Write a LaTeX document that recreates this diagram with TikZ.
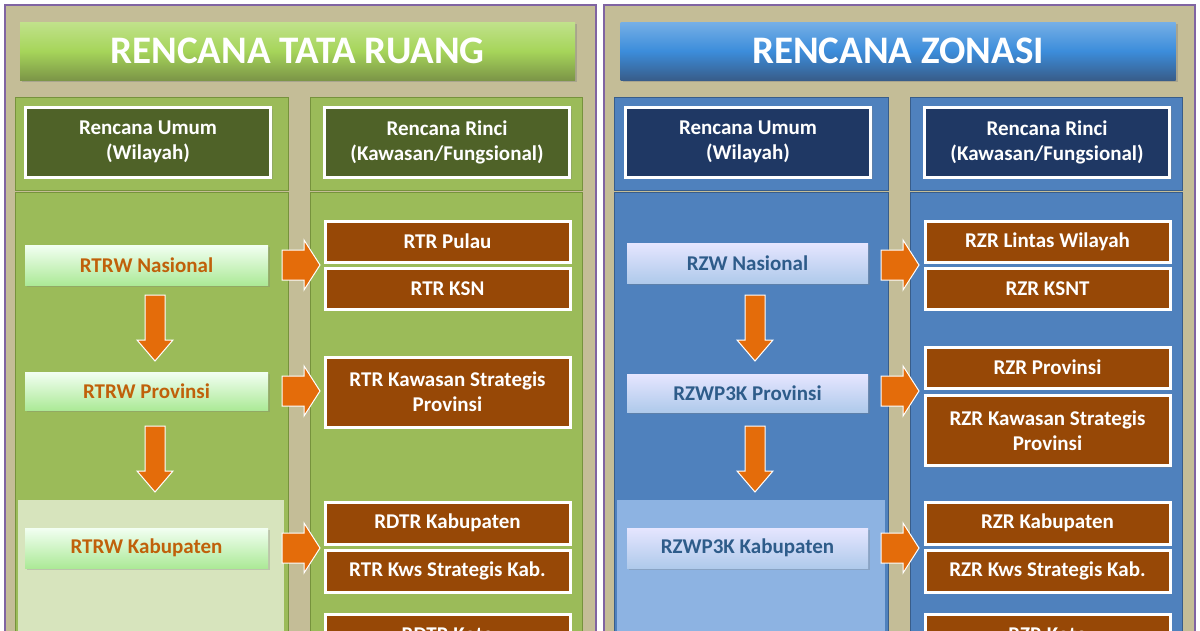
\documentclass[tikz,border=0pt]{standalone}
\usepackage{fontspec}
\setmainfont{Carlito}
\usetikzlibrary{shadows}
\definecolor{tan}{HTML}{C4BD97}
\definecolor{purp}{HTML}{8064A2}
\definecolor{gcol}{HTML}{9BBB59}
\definecolor{gdark}{HTML}{4F6228}
\definecolor{gedge}{HTML}{76923C}
\definecolor{glight}{HTML}{D7E4BD}
\definecolor{bcol}{HTML}{4F81BD}
\definecolor{bdark}{HTML}{1F3864}
\definecolor{bedge}{HTML}{385D8A}
\definecolor{blight}{HTML}{8DB3E2}
\definecolor{brown}{HTML}{974806}
\definecolor{orng}{HTML}{E46C0A}
\definecolor{otext}{HTML}{C0600A}
\definecolor{btext}{HTML}{2E5C8A}
\definecolor{tgreen}{HTML}{A6D55A}
\definecolor{tblue}{HTML}{3C8DDB}
\tikzset{
 x=1pt,y=-1pt,
 panel/.style={fill=tan,draw=purp,line width=1.5pt},
 titlebar/.style={draw=none,font=\bfseries\fontsize{39}{42}\selectfont,text=white,drop shadow={opacity=0.4}},
 colbox/.style={line width=1pt},
 head/.style={draw=white,line width=3pt,text=white,font=\bfseries\fontsize{21}{25}\selectfont,align=center,drop shadow={opacity=0.3}},
 gitem/.style={font=\bfseries\fontsize{21}{24}\selectfont,text=otext,drop shadow={opacity=0.3}},
 bitem/.style={font=\bfseries\fontsize{21}{24}\selectfont,text=btext,drop shadow={opacity=0.3}},
 rbox/.style={fill=brown,draw=white,line width=3pt,text=white,font=\bfseries\fontsize{21}{25}\selectfont,align=center,drop shadow={opacity=0.35}},
 arr/.style={fill=orng,draw=white,line width=1pt},
 rarr/.pic={\draw[arr] (-19,-15) -- (3,-15) -- (3,-25) -- (19,0) -- (3,25) -- (3,15) -- (-19,15) -- cycle;},
 darr/.pic={\draw[arr] (-10,-33) -- (10,-33) -- (10,12) -- (18,12) -- (0,33) -- (-18,12) -- (-10,12) -- cycle;},
}
\newcommand{\bx}[4]{(#1,#2) rectangle (#3,#4)}
\begin{document}
\begin{tikzpicture}
\useasboundingbox (0,0) rectangle (1200,630);
\begin{scope}
\clip (0,0) rectangle (1200,630);
\draw[panel] \bx{5}{5}{596}{640};
\draw[panel] \bx{604}{5}{1195}{640};
\node[titlebar,top color=tgreen!70!white,bottom color=gcol!80!black,middle color=tgreen,minimum width=555pt,minimum height=58pt] (t1) at (297.5,51) {RENCANA TATA RUANG};
\node[titlebar,top color=tblue!70!white,bottom color=bedge,middle color=tblue,minimum width=555pt,minimum height=58pt] (t2) at (898,51) {RENCANA ZONASI};
\filldraw[colbox,fill=gcol,draw=gedge] \bx{15}{97}{288}{190};
\filldraw[colbox,fill=gcol,draw=gedge] \bx{15}{192}{288}{640};
\fill[glight] \bx{18}{500}{284}{640};
\filldraw[colbox,fill=gcol,draw=gedge] \bx{310}{97}{582}{190};
\filldraw[colbox,fill=gcol,draw=gedge] \bx{310}{192}{582}{640};
\filldraw[colbox,fill=bcol,draw=bedge] \bx{614}{97}{888}{190};
\filldraw[colbox,fill=bcol,draw=bedge] \bx{614}{192}{888}{640};
\fill[blight] \bx{617}{500}{885}{640};
\filldraw[colbox,fill=bcol,draw=bedge] \bx{910}{97}{1182}{190};
\filldraw[colbox,fill=bcol,draw=bedge] \bx{910}{192}{1182}{640};
\node[head,fill=gdark,minimum width=245pt,minimum height=70pt] (h1) at (148,142) {Rencana Umum\\(Wilayah)};
\node[head,fill=gdark,minimum width=245pt,minimum height=70pt] (h2) at (447,142) {Rencana Rinci\\(Kawasan/Fungsional)};
\node[head,fill=bdark,minimum width=245pt,minimum height=70pt] (h3) at (748,142) {Rencana Umum\\(Wilayah)};
\node[head,fill=bdark,minimum width=245pt,minimum height=70pt] (h4) at (1047,142) {Rencana Rinci\\(Kawasan/Fungsional)};
\node[gitem,top color=green!5!white,bottom color=glight!80!green,minimum width=243pt,minimum height=40pt] (g1) at (146.5,265) {RTRW Nasional};
\node[gitem,top color=green!5!white,bottom color=glight!80!green,minimum width=243pt,minimum height=38pt] (g2) at (146.5,391) {RTRW Provinsi};
\node[gitem,top color=green!5!white,bottom color=glight!80!green,minimum width=243pt,minimum height=40pt] (g3) at (146.5,548) {RTRW Kabupaten};
\pic at (155,328) {darr};
\pic at (155,459) {darr};
\node[rbox,minimum width=245pt,minimum height=41pt] (r1) at (447.5,241.5) {RTR Pulau};
\node[rbox,minimum width=245pt,minimum height=41pt] (r2) at (447.5,288.5) {RTR KSN};
\node[rbox,minimum width=245pt,minimum height=70pt] (r3) at (447.5,392) {RTR Kawasan Strategis\\Provinsi};
\node[rbox,minimum width=245pt,minimum height=42pt] (r4) at (447.5,523) {RDTR Kabupaten};
\node[rbox,minimum width=245pt,minimum height=42pt] (r5) at (447.5,571) {RTR Kws Strategis Kab.};
\node[rbox,minimum width=245pt,minimum height=42pt] (r6) at (447.5,635) {RDTR Kota};
\pic at (301,265) {rarr};
\pic at (301,391) {rarr};
\pic at (301,548) {rarr};
\node[bitem,top color=white!90!blue,bottom color=blight!70!white,minimum width=241pt,minimum height=40pt] (b1) at (747.5,263) {RZW Nasional};
\node[bitem,top color=white!90!blue,bottom color=blight!70!white,minimum width=241pt,minimum height=38pt] (b2) at (747.5,393) {RZWP3K Provinsi};
\node[bitem,top color=white!90!blue,bottom color=blight!70!white,minimum width=241pt,minimum height=40pt] (b3) at (747.5,548) {RZWP3K Kabupaten};
\pic at (755,328) {darr};
\pic at (755,459) {darr};
\node[rbox,minimum width=245pt,minimum height=41pt] (s1) at (1047.5,241.5) {RZR Lintas Wilayah};
\node[rbox,minimum width=245pt,minimum height=41pt] (s2) at (1047.5,288.5) {RZR KSNT};
\node[rbox,minimum width=245pt,minimum height=41pt] (s3) at (1047.5,367.5) {RZR Provinsi};
\node[rbox,minimum width=245pt,minimum height=70pt] (s4) at (1047.5,430.5) {RZR Kawasan Strategis\\Provinsi};
\node[rbox,minimum width=245pt,minimum height=42pt] (s5) at (1047.5,523) {RZR Kabupaten};
\node[rbox,minimum width=245pt,minimum height=42pt] (s6) at (1047.5,571) {RZR Kws Strategis Kab.};
\node[rbox,minimum width=245pt,minimum height=42pt] (s7) at (1047.5,635) {RZR Kota};
\pic at (900,265) {rarr};
\pic at (900,391) {rarr};
\pic at (900,548) {rarr};
\end{scope}
\end{tikzpicture}
\end{document}
